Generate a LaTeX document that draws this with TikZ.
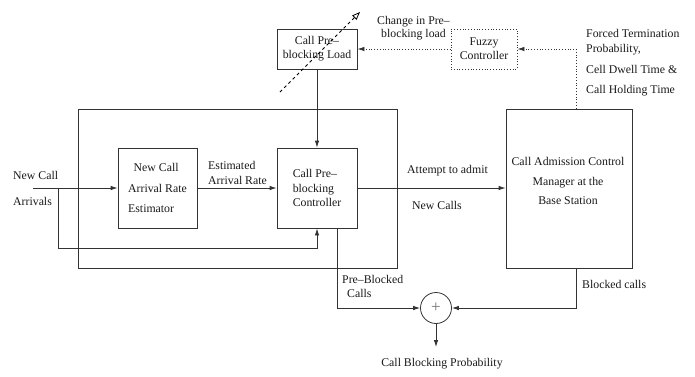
\documentclass[tikz,border=0pt]{standalone}
\usepackage{fontspec}
\setmainfont{Liberation Serif}
\usetikzlibrary{arrows.meta}
\newcommand{\fs}[1]{\fontsize{11.8}{#1}\selectfont}
\begin{document}
\begin{tikzpicture}[x=1pt,y=-1pt,
  every node/.style={font=\fs{14}, inner sep=0pt, text=black!90},
  ln/.style={draw=black!80, line width=0.8pt},
  blk/.style={ln, minimum width=80pt, minimum height=80pt, align=left},
  arr/.style={ln, -{Latex[length=7pt,width=4.5pt]}},
  dotarr/.style={ln, dotted, -{Latex[length=7pt,width=4.5pt]}},
  lbl/.style={anchor=west, align=left},
]
\useasboundingbox (0,0) rectangle (695,376);

% frames and blocks
\node[ln, minimum width=319pt, minimum height=159pt] (outer) at (237.5,188.5) {};
\node[blk, minimum width=79pt, font=\fs{20.5}] (est) at (157.5,188) {\hspace*{5.5pt}New Call\\Arrival Rate\\Estimator};
\node[blk, font=\fs{14.5}] (ctrl) at (317,188) {Call Pre--\\blocking\\Controller};
\node[blk, minimum height=40pt, align=center] (load) at (317,49) {Call Pre--\\blocking Load};
\node[blk, dotted, minimum width=66pt, minimum height=40pt, align=center] (fuzzy) at (484,49) {Fuzzy\\Controller};
\node[blk, minimum width=126pt, minimum height=159pt] (cac) at (569,188.5) {};
\node[align=center, font=\fs{19.5}] (cactxt) at (568,181) {Call Admission Control\\Manager at the\\Base Station};
\node[ln, circle, minimum size=31pt, text=black!55, font=\fontsize{17}{17}\selectfont] (sum) at (436,308) {+};

% coordinates
\coordinate (in) at (33,188);
\coordinate (br) at (58,188);
\coordinate (brd) at (58,248);
\coordinate (out) at (436,347);
\coordinate (d1) at (280,92);
\coordinate (d2) at (360,12);

% connectors
\draw[arr] (in) -- (est.west);
\draw[arr] (br) -- (brd) -| (ctrl.south);
\draw[arr] (est.east) -- (ctrl.west);
\draw[arr] (load.south) -- (ctrl.north);
\draw[arr] (ctrl.east) -- (ctrl.east -| cac.west);
\draw[arr] ([xshift=20pt]ctrl.south) |- (sum.west);
\draw[arr] ([xshift=7pt]cac.south) |- (sum.east);
\draw[arr] (sum.south) -- (out);
\draw[dotarr] (fuzzy.west) -- (load.east);
\draw[dotarr] ([xshift=7pt]cac.north) |- (fuzzy.east);
\draw[draw=black, line width=0.8pt, dashed, -{Triangle[open,length=8pt,width=6pt]}] (d1) -- (d2);

% labels
\node[lbl, font=\fs{26}] (ncall) at (13,188) {New Call\\Arrivals};
\node[lbl, font=\fs{15}] (ear) at (208,172.5) {Estimated\\Arrival Rate};
\node[lbl] (att) at (407,171) {Attempt to admit};
\node[lbl] (nc) at (412,205) {New Calls};
\node[lbl] (pbc) at (342,286) {Pre--Blocked\\\hspace*{5pt}Calls};
\node[lbl] (bc) at (582,284) {Blocked calls};
\node (cbp) at (442,364) {Call Blocking Probability};
\node[align=center, font=\fs{12.5}] (chg) at (413.5,28) {Change in Pre--\\blocking load};
\node[lbl, font=\fs{15}] (ftp) at (586,63) {Forced Termination\\Probability,\\[6pt]Cell Dwell Time \&\\[5pt]Call Holding Time};
\end{tikzpicture}
\end{document}
